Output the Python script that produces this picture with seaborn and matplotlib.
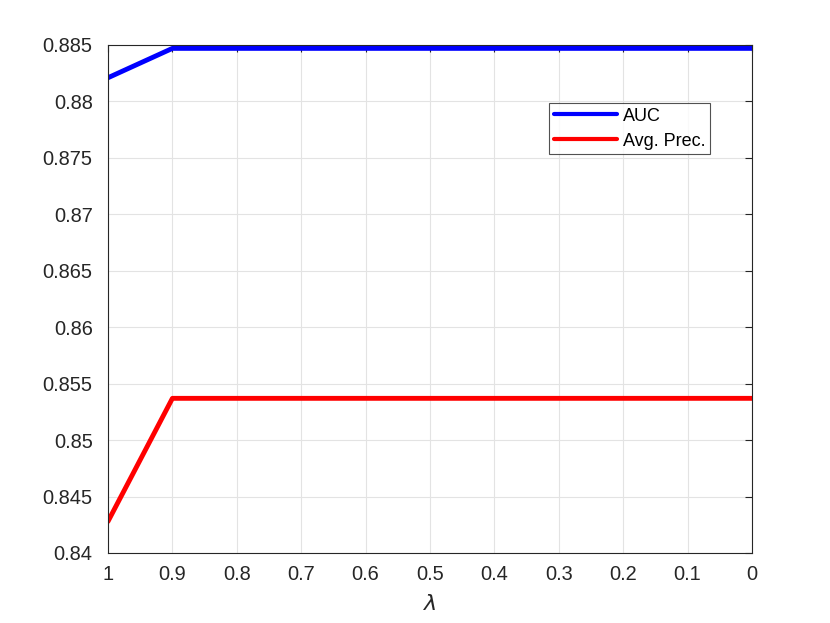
import matplotlib
matplotlib.use("Agg")
import matplotlib.pyplot as plt
import seaborn as sns
import pandas as pd

lam = [1.0, 0.9, 0.8, 0.7, 0.6, 0.5, 0.4, 0.3, 0.2, 0.1, 0.0]
auc = [0.8821, 0.8847, 0.8847, 0.8847, 0.8847, 0.8847, 0.8847, 0.8847, 0.8847, 0.8847, 0.8847]
avg_prec = [0.8428, 0.8537, 0.8537, 0.8537, 0.8537, 0.8537, 0.8537, 0.8537, 0.8537, 0.8537, 0.8537]
series_names = ["AUC", "Avg. Prec."]
colors = ["#0000ff", "#ff0000"]
xticks = [1, 0.9, 0.8, 0.7, 0.6, 0.5, 0.4, 0.3, 0.2, 0.1, 0]
xticklabels = ["1", "0.9", "0.8", "0.7", "0.6", "0.5", "0.4", "0.3", "0.2", "0.1", "0"]
yticks = [0.84, 0.845, 0.85, 0.855, 0.86, 0.865, 0.87, 0.875, 0.88, 0.885]
yticklabels = ["0.84", "0.845", "0.85", "0.855", "0.86", "0.865", "0.87", "0.875", "0.88", "0.885"]

sns.set_style("white")
plt.rcParams['font.family'] = ['Liberation Sans', 'DejaVu Sans']

df = pd.DataFrame({
    "lam": lam * 2,
    "value": auc + avg_prec,
    "series": [series_names[0]] * len(lam) + [series_names[1]] * len(lam),
})

fig = plt.figure(figsize=(8.3, 6.23), dpi=100)
ax = fig.add_axes([108/830, 70/623, (752-108)/830, (553-45)/623])

sns.lineplot(data=df, x="lam", y="value", hue="series", palette=colors,
             linewidth=3.5, ax=ax, legend=True)

ax.set_xlim(1, 0)
ax.set_ylim(0.84, 0.885)
ax.set_xticks(xticks)
ax.set_xticklabels(xticklabels)
ax.set_yticks(yticks)
ax.set_yticklabels(yticklabels)
ax.grid(True, color="#e3e3e3", linewidth=0.8)
ax.set_axisbelow(True)
for s in ax.spines.values():
    s.set_color("#262626")
    s.set_linewidth(0.8)
    s.set_visible(True)
ax.tick_params(direction="in", length=5, width=0.8, color="#262626",
               top=True, right=True, labelsize=14.4, labelcolor="#262626")
ax.tick_params(axis="x", pad=9)
ax.tick_params(axis="y", pad=11)
ax.set_xlabel("$\\lambda$", fontsize=16, color="#262626", labelpad=7)
ax.set_ylabel("")

leg = ax.legend(loc="upper left", bbox_to_anchor=((549-108)/644, (553-103)/508),
                frameon=True, fancybox=False, fontsize=13, handlelength=3.5,
                borderpad=0.25, labelspacing=0.45, handletextpad=0.35, borderaxespad=0)
leg.get_frame().set_edgecolor("#262626")
leg.get_frame().set_linewidth(0.8)
for line in leg.get_lines():
    line.set_linewidth(3)
for t in leg.get_texts():
    t.set_color("black")

fig.savefig("out.png", dpi=100, facecolor="white")
